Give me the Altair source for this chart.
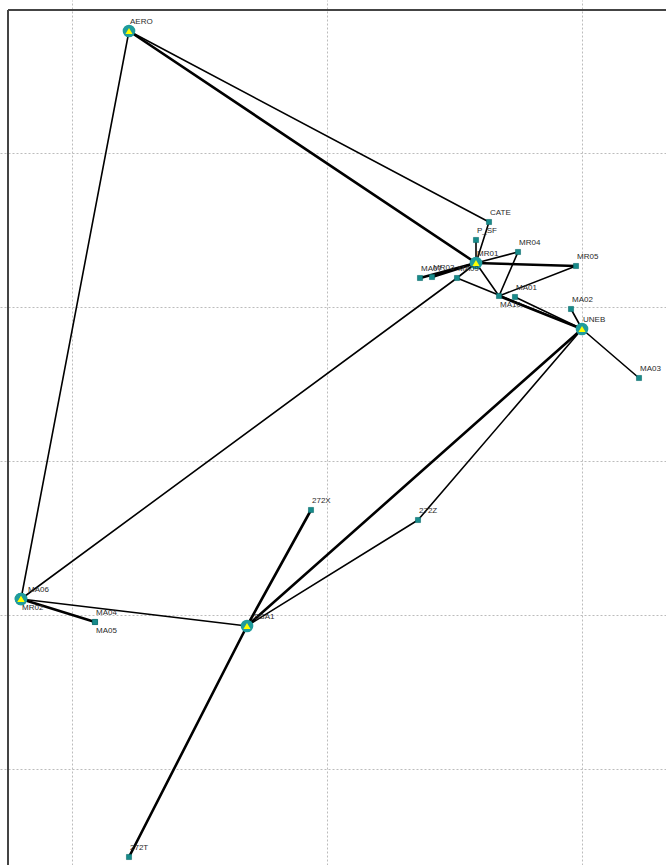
import altair as alt
import pandas as pd

# ---- data (map units ~ screen coordinates) ----
node_names = ["AERO", "MR01", "UNEB", "MA06", "MR02", "SSA1",
              "CATE", "P_SF", "MR04", "MR05", "MA01", "MA10", "MA02", "MA03",
              "MA07", "MR03", "MA09", "272X", "272Z", "272T", "MA04", "MA05"]
node_x = [129, 476, 582, 21, 21, 247,
          489, 476, 518, 576, 515, 499, 571, 639,
          420, 432, 457, 311, 418, 129, 95, 95]
node_y = [31, 263, 329, 599, 599, 626,
          222, 240, 252, 266, 297, 296, 309, 378,
          278, 277, 278, 510, 520, 857, 622, 622]
node_kind = ["hub", "hub", "hub", "hub", "hub", "hub",
             "site", "site", "site", "site", "site", "site", "site", "site",
             "site", "site", "site", "site", "site", "site", "site", "site"]
label_side = ["above", "above", "above", "above_wide", "below", "above_wide",
              "above", "above", "above", "above", "above", "below", "above", "above",
              "above", "above", "above", "above", "above", "above", "above", "below"]

edge_source = ["AERO", "AERO", "AERO", "CATE", "P_SF", "MR01", "MR01", "MR04", "MR05",
               "MR01", "MR01", "MR01", "MR01", "MA09", "MA10", "MA01", "MA02", "UNEB",
               "UNEB", "UNEB", "272Z", "272X", "SSA1", "MA06", "MA06", "MA06"]
edge_target = ["MA06", "CATE", "MR01", "MR01", "MR01", "MR04", "MR05", "MA10", "MA10",
               "MA10", "MA07", "MR03", "MA09", "UNEB", "UNEB", "UNEB", "UNEB", "MA03",
               "SSA1", "272Z", "SSA1", "SSA1", "272T", "SSA1", "MA04", "MA09"]
edge_links = [1, 1, 2, 1, 1, 1, 2, 1, 1,
              1, 2, 2, 1, 1, 2, 1, 1, 1,
              2, 1, 1, 2, 2, 1, 2, 1]

x_grid = [72, 327, 582]
y_grid = [153, 307, 461, 615, 769]

# ---- tables ----
nodes = pd.DataFrame({"name": node_names, "x": node_x, "y": node_y,
                      "kind": node_kind, "side": label_side})
pos = nodes.drop_duplicates("name").set_index("name")
edges = pd.DataFrame({"s": edge_source, "t": edge_target, "n": edge_links})
edges["x"] = edges["s"].map(pos["x"])
edges["y"] = edges["s"].map(pos["y"])
edges["x2"] = edges["t"].map(pos["x"])
edges["y2"] = edges["t"].map(pos["y"])
edges["w"] = edges["n"].map({1: 1.6, 2: 2.6})

W, H = 666, 865
xs = alt.Scale(domain=[0, W], nice=False, zero=False)
ys = alt.Scale(domain=[0, H], nice=False, zero=False, reverse=True)

grid_axis = dict(grid=True, labels=False, ticks=False, domain=False, title=None,
                 gridColor="#bcbcbc", gridDash=[2, 2], gridWidth=1)

edge_layer = alt.Chart(edges).mark_rule(color="#000000", strokeCap="round").encode(
    x=alt.X("x:Q", scale=xs, axis=alt.Axis(values=x_grid, **grid_axis)),
    y=alt.Y("y:Q", scale=ys, axis=alt.Axis(values=y_grid, **grid_axis)),
    x2="x2:Q", y2="y2:Q",
    strokeWidth=alt.StrokeWidth("w:Q", scale=None),
)

frame_top = alt.Chart(pd.DataFrame({"a": [0]})).mark_rule(color="#444444", strokeWidth=2).encode(
    x=alt.value(8), x2=alt.value(W), y=alt.value(10))
frame_left = alt.Chart(pd.DataFrame({"a": [0]})).mark_rule(color="#444444", strokeWidth=2).encode(
    x=alt.value(8), y=alt.value(10), y2=alt.value(H))

hubs = nodes[nodes.kind == "hub"]
sites = nodes[nodes.kind == "site"]

hub_ring = alt.Chart(hubs).mark_point(shape="circle", filled=True, color="#1f9c9c",
                                      size=160, opacity=1).encode(
    x=alt.X("x:Q", scale=xs), y=alt.Y("y:Q", scale=ys))
hub_tri = alt.Chart(hubs).mark_point(shape="triangle-up", filled=True, color="#ffff00",
                                     size=50, opacity=1).encode(
    x=alt.X("x:Q", scale=xs), y=alt.Y("y:Q", scale=ys))
site_sq = alt.Chart(sites).mark_square(color="#178a8a", size=26, opacity=1,
                                       stroke="#0b6b6b", strokeWidth=0.6).encode(
    x=alt.X("x:Q", scale=xs), y=alt.Y("y:Q", scale=ys))

def labels(side, dx, dy, baseline):
    return alt.Chart(nodes[nodes.side == side]).mark_text(
        align="left", baseline=baseline, dx=dx, dy=dy, font="Liberation Sans",
        fontSize=8, color="#2a2a2a").encode(
        x=alt.X("x:Q", scale=xs), y=alt.Y("y:Q", scale=ys), text="name:N")

lab_above = labels("above", 1, -5, "bottom")
lab_above_w = labels("above_wide", 7, -5, "bottom")
lab_below = labels("below", 1, 5, "top")

chart = alt.layer(
    edge_layer, frame_top, frame_left, site_sq, hub_ring, hub_tri,
    lab_above, lab_above_w, lab_below
).properties(
    width=W, height=H, autosize=alt.AutoSizeParams(type="none"), padding=0,
    background="white"
).configure_view(stroke=None)

chart.save("out.html", embed_options={"renderer": "svg", "actions": False})
